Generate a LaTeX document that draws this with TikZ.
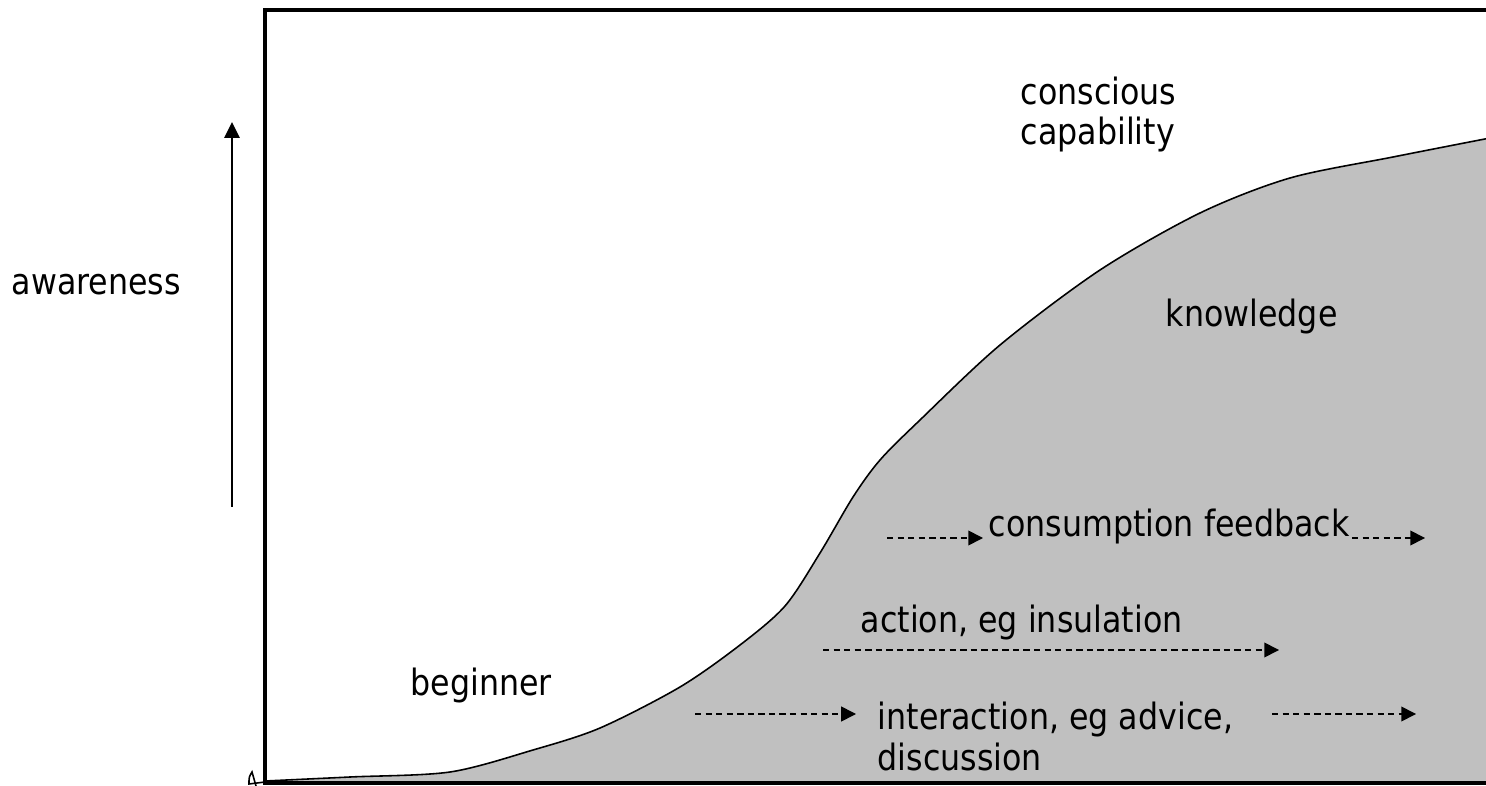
\documentclass[tikz,border=0pt]{standalone}
\usepackage{fontspec}
\setmainfont[FakeStretch=0.875]{DejaVu Sans}
\usetikzlibrary{arrows.meta}

\definecolor{knowgray}{HTML}{C0C0C0}

\tikzset{
  lbl/.style={anchor=base west,inner sep=0pt,align=left},
  flow/.style={->,dashed,dash pattern=on 1.8pt off 1.2pt,line width=0.45pt},
  curve/.style={line width=0.45pt}
}

\begin{document}
\begin{tikzpicture}[x=0.01cm,y=-0.01cm,>={Triangle[length=4.2pt,width=4.2pt]},
    font=\fontsize{10.3pt}{11.5pt}\selectfont]
  \useasboundingbox (0,0) rectangle (1486,786);
  % area under the learning curve
  \fill[knowgray] plot[smooth] coordinates {(265,781) (350,777) (450,772) (533,750)
      (600,728) (680,687) (740,645) (785,606) (820,553) (853,497) (880,460) (920,420)
      (1000,345) (1100,270) (1200,213) (1290,178) (1393,157) (1490,138)}
    -- (1490,783) -- (265,783) -- cycle;
  \draw[curve] plot[smooth] coordinates {(265,781) (350,777) (450,772) (533,750)
      (600,728) (680,687) (740,645) (785,606) (820,553) (853,497) (880,460) (920,420)
      (1000,345) (1100,270) (1200,213) (1290,178) (1393,157) (1490,138)};
  \draw[curve] (265,782) -- (249,784) .. controls (249,777) .. (252,772) -- (256,786);
  % frame
  \draw[line width=0.04cm] (1490,10) -- (265,10) -- (265,783) -- (1490,783);

  % labels (multi-line ones sit on their last baseline)
  \node[lbl](aware)at(11, 295){awareness};
  \node[lbl](consc)at(1020, 145){conscious\\capability};
  \node[lbl](know)at(1165, 327){knowledge};
  \node[lbl](begin)at(410, 695){beginner};
  \node[lbl](cons)at(988, 537){consumption feedback};
  \node[lbl](act)at(860, 632){action, eg insulation};
  \node[lbl](inter)at(877, 770){interaction, eg advice,\\discussion};

  \coordinate(aw0)at(232, 507);
  \coordinate(aw1)at(232, 122);
  \coordinate(cf0)at(887, 538);
  \coordinate(cf1)at(983, 538);
  \coordinate(cf2)at(1352, 538);
  \coordinate(cf3)at(1425, 538);
  \coordinate(ac0)at(823, 650);
  \coordinate(ac1)at(1279, 650);
  \coordinate(in0)at(695, 714);
  \coordinate(in1)at(856, 714);
  \coordinate(in2)at(1272, 714);
  \coordinate(in3)at(1416, 714);

  \path[->,line width=0.5pt,>={Triangle[length=4.5pt,width=4.3pt]}](aw0) edge (aw1);
  \path[flow](cf0) edge (cf1)
    (cf2) edge (cf3)
    (ac0) edge (ac1)
    (in0) edge (in1)
    (in2) edge (in3);
\end{tikzpicture}
\end{document}
